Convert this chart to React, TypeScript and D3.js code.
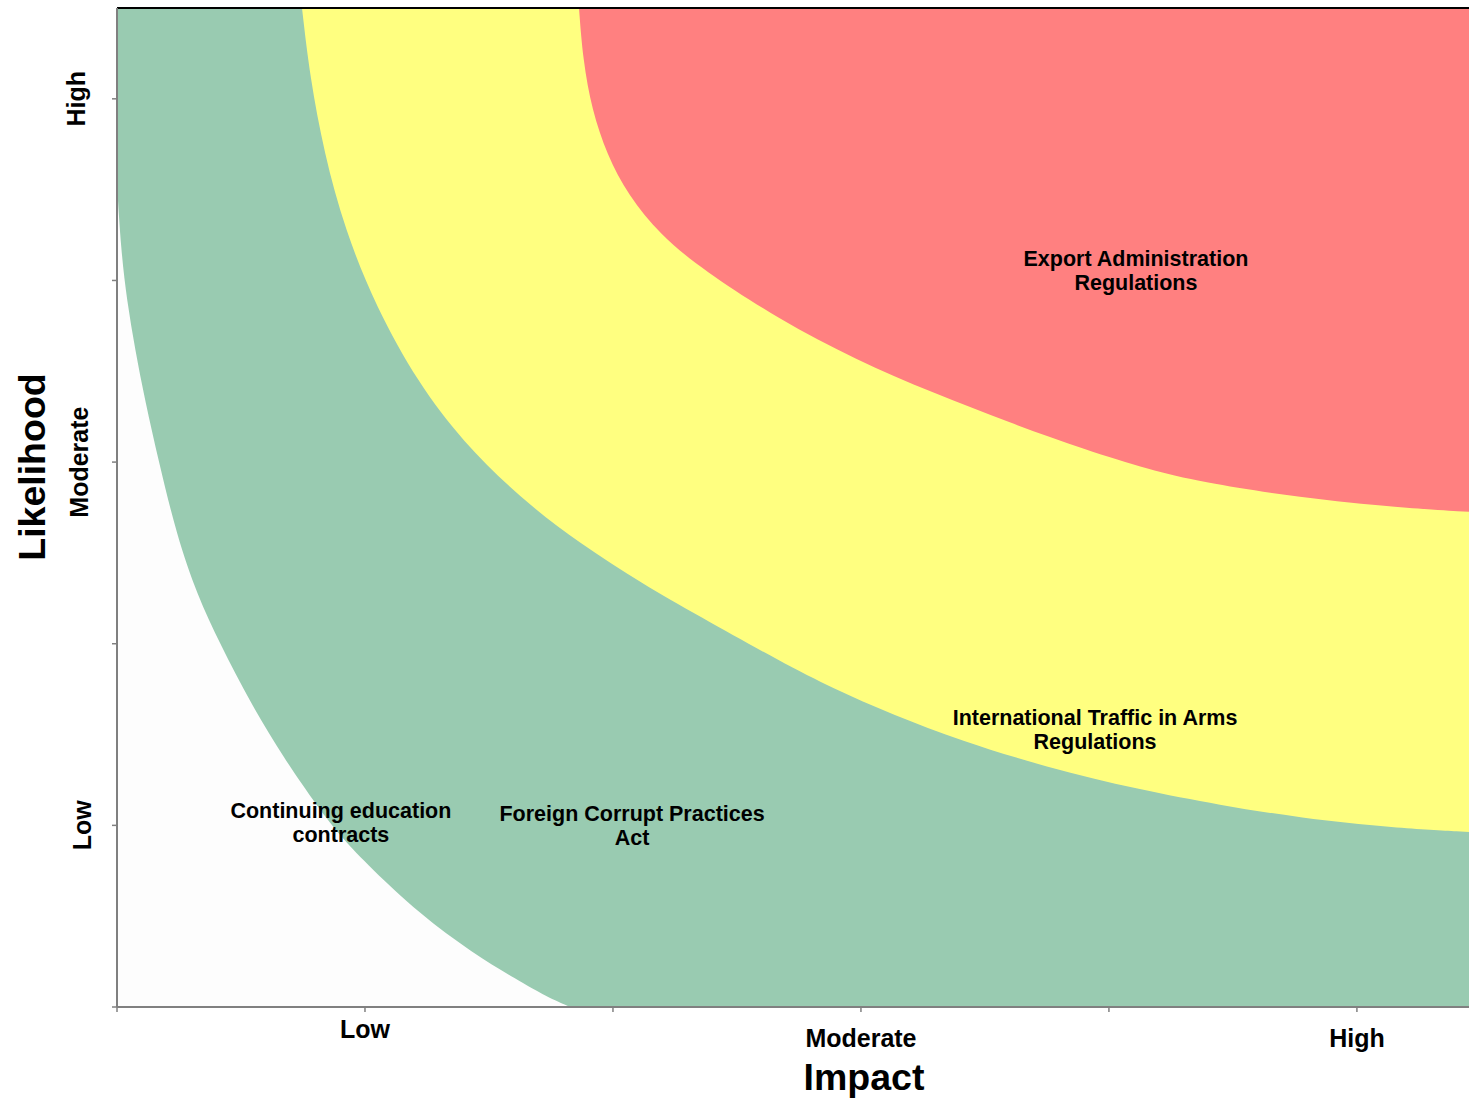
import React from "react";
import * as d3 from "d3";

// Boundary curves, in data units (impact, likelihood)
const whiteEdge: [number, number][] = [
  [0, 4.53], [0.016, 4.17], [0.04, 3.89], [0.073, 3.62], [0.113, 3.34], [0.169, 3.0],
  [0.242, 2.59], [0.323, 2.27], [0.415, 2.0], [0.54, 1.67], [0.673, 1.37], [0.81, 1.1],
  [0.907, 0.93], [1.02, 0.77], [1.222, 0.51], [1.431, 0.3], [1.613, 0.15], [1.734, 0.055], [1.827, 0],
];
const yellowEdge: [number, number][] = [
  [0.746, 5.5], [0.778, 5.121], [0.835, 4.703], [0.919, 4.279], [1.044, 3.855], [1.214, 3.436],
  [1.391, 3.117], [1.625, 2.803], [1.867, 2.55], [2.121, 2.329], [2.339, 2.159], [2.685, 1.894],
  [2.883, 1.757], [3.129, 1.608], [3.407, 1.465], [3.742, 1.322], [4.125, 1.195], [4.448, 1.112],
  [4.77, 1.041], [5.153, 0.986], [5.452, 0.964],
];
const redEdge: [number, number][] = [
  [1.863, 5.5], [1.879, 5.215], [1.915, 4.939], [1.976, 4.692], [2.06, 4.471], [2.19, 4.251],
  [2.363, 4.058], [2.673, 3.783], [2.98, 3.563], [3.29, 3.381], [3.601, 3.216], [3.907, 3.067],
  [4.165, 2.957], [4.367, 2.891], [4.77, 2.803], [5.173, 2.748], [5.452, 2.726],
];

const tickValues = [0, 1, 2, 3, 4, 5];
const xTickLabels = [
  { v: 1, label: "Low" },
  { v: 3, label: "Moderate" },
  { v: 5, label: "High" },
];
const yTickLabels = [
  { v: 5, label: "High" },
  { v: 3, label: "Moderate" },
  { v: 1, label: "Low" },
];
const annotations = [
  { x: 4.109, y: 4.06, lines: ["Export Administration", "Regulations"] },
  { x: 3.944, y: 1.53, lines: ["International Traffic in Arms", "Regulations"] },
  { x: 2.077, y: 1.0, lines: ["Foreign Corrupt Practices", "Act"] },
  { x: 0.903, y: 1.016, lines: ["Continuing education", "contracts"] },
];

const X_MAX = 5.452;
const Y_MAX = 5.5;

export default function App() {
  const x = d3.scaleLinear().domain([0, X_MAX]).range([117, 1469]);
  const y = d3.scaleLinear().domain([0, Y_MAX]).range([1007, 8]);
  const curve = d3.curveBasis;

  const topArea = d3
    .area<[number, number]>()
    .x((d) => x(d[0]))
    .y0(y(Y_MAX))
    .y1((d) => y(d[1]))
    .curve(curve);
  const bottomArea = d3
    .area<[number, number]>()
    .x((d) => x(d[0]))
    .y0(y(0))
    .y1((d) => y(d[1]))
    .curve(curve);

  const font = "'Liberation Sans', Arial, Helvetica, sans-serif";
  const xLabelDy: Record<string, number> = { Low: 31, Moderate: 40, High: 40 };
  const yLabelX: Record<string, number> = { High: 85, Moderate: 88, Low: 91 };

  return (
    <svg
      width={1469}
      height={1104}
      style={{ position: "absolute", left: 0, top: 0, background: "#ffffff" }}
      fontFamily={font}
    >
      <defs>
        <clipPath id="plot">
          <rect x={x(0)} y={y(Y_MAX)} width={x(X_MAX) - x(0)} height={y(0) - y(Y_MAX)} />
        </clipPath>
      </defs>
      <g clipPath="url(#plot)">
        <rect x={x(0)} y={y(Y_MAX)} width={x(X_MAX) - x(0)} height={y(0) - y(Y_MAX)} fill="#99cbb1" />
        <path d={bottomArea(whiteEdge) || ""} fill="#fdfdfd" />
        <path d={topArea(yellowEdge) || ""} fill="#ffff80" />
        <path d={topArea(redEdge) || ""} fill="#ff8080" />
      </g>

      {/* top border */}
      <line x1={x(0)} x2={x(X_MAX)} y1={y(Y_MAX)} y2={y(Y_MAX)} stroke="#000" strokeWidth={2} />
      {/* axes */}
      <line x1={x(0)} x2={x(0)} y1={y(Y_MAX)} y2={y(0)} stroke="#808080" strokeWidth={2} />
      <line x1={x(0)} x2={x(X_MAX)} y1={y(0)} y2={y(0)} stroke="#808080" strokeWidth={2} />
      {tickValues.map((t) => (
        <line key={"xt" + t} x1={x(t)} x2={x(t)} y1={y(0)} y2={y(0) + 5} stroke="#808080" strokeWidth={1.5} />
      ))}
      {tickValues.map((t) => (
        <line key={"yt" + t} x1={x(0) - 5} x2={x(0)} y1={y(t)} y2={y(t)} stroke="#808080" strokeWidth={1.5} />
      ))}

      {xTickLabels.map((d) => (
        <text
          key={"xl" + d.label}
          x={x(d.v)}
          y={y(0) + xLabelDy[d.label]}
          textAnchor="middle"
          fontSize={25}
          fontWeight="bold"
          fill="#000"
        >
          {d.label}
        </text>
      ))}
      {yTickLabels.map((d) => (
        <text
          key={"yl" + d.label}
          transform={`translate(${yLabelX[d.label]},${y(d.v)}) rotate(-90)`}
          textAnchor="middle"
          fontSize={25}
          fontWeight="bold"
          fill="#000"
        >
          {d.label}
        </text>
      ))}

      <text x={864} y={1090} textAnchor="middle" fontSize={37.5} fontWeight="bold" fill="#000">
        Impact
      </text>
      <text
        transform={`translate(45,467) rotate(-90)`}
        textAnchor="middle"
        fontSize={37.5}
        fontWeight="bold"
        fill="#000"
      >
        Likelihood
      </text>

      {annotations.map((a, i) => (
        <text
          key={"an" + i}
          x={x(a.x)}
          y={y(a.y)}
          textAnchor="middle"
          fontSize={21.5}
          fontWeight="bold"
          fill="#000"
        >
          {a.lines.map((ln, j) => (
            <tspan key={j} x={x(a.x)} dy={j === 0 ? -4 : 24}>
              {ln}
            </tspan>
          ))}
        </text>
      ))}
    </svg>
  );
}
